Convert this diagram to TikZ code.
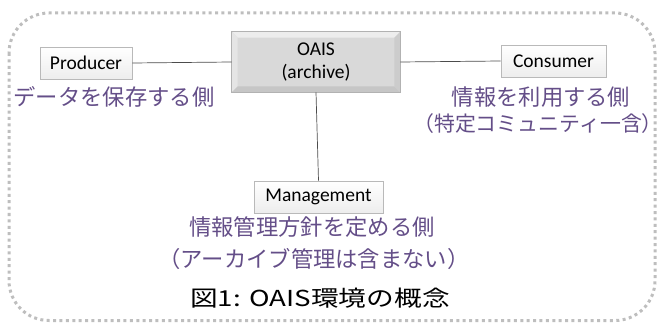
\documentclass[tikz,border=0pt]{standalone}
\usepackage{fontspec}
\setmainfont{Carlito}
\newfontfamily\jp{Noto Sans CJK JP}
\usetikzlibrary{calc}
\definecolor{jpurple}{RGB}{100,78,136}
\definecolor{frameg}{RGB}{190,190,190}
\newcommand{\lpar}{\makebox[0.55em][r]{（}}
\newcommand{\rpar}{\makebox[0.55em][l]{）}}
\tikzset{
  smallbox/.style={draw=gray!55, line width=0.6pt, top color=white, bottom color=gray!14,
    inner sep=0pt, font=\fontsize{19.5}{21}\selectfont},
  oaisbox/.style={draw=gray!60, line width=0.6pt, fill=gray!30, inner sep=0pt},
  link/.style={draw=gray!60!black, line width=0.7pt},
  jplabel/.style={text=jpurple, font=\jp\fontsize{22.3}{25}\selectfont, inner sep=0pt},
  caption/.style={text=black, font=\jp\fontsize{22}{25}\selectfont, inner sep=0pt, xscale=1.26},
  frame/.style={draw=frameg, line width=3pt, dash pattern=on 3pt off 3.4pt, rounded corners=40pt}
}
\begin{document}
\begin{tikzpicture}[x=1pt,y=-1pt]
\useasboundingbox (0,0) rectangle (658,323);
\draw[frame] (9,13) rectangle (655,320.5);

\node[smallbox, minimum width=92pt, minimum height=32pt] (prod) at (86,63) {Producer};
\node[smallbox, minimum width=105pt, minimum height=32pt] (cons) at (553.5,61) {Consumer};
\node[smallbox, minimum width=129pt, minimum height=32pt] (mgmt) at (318.5,197) {Management};
\node[oaisbox, minimum width=168pt, minimum height=60pt] (oais) at (316,62) {};
\fill[gray!14] (oais.north west) -- (oais.north east) -- ($(oais.north east)+(-6,6)$) -- ($(oais.north west)+(6,6)$) -- cycle;
\fill[gray!20] (oais.north west) -- ($(oais.north west)+(6,6)$) -- ($(oais.south west)+(6,-6)$) -- (oais.south west) -- cycle;
\fill[gray!45] (oais.south west) -- ($(oais.south west)+(6,-6)$) -- ($(oais.south east)+(-6,-6)$) -- (oais.south east) -- cycle;
\fill[gray!40] (oais.north east) -- (oais.south east) -- ($(oais.south east)+(-6,-6)$) -- ($(oais.north east)+(-6,6)$) -- cycle;
\draw[gray!60, line width=0.6pt] (oais.north west) rectangle (oais.south east);
\node[font=\fontsize{19.5}{23}\selectfont, align=center, inner sep=0pt] (oaislabel) at (oais) {OAIS\\(archive)};

\draw[link] (prod.east) -- (oais.west);
\draw[link] (oais.east) -- (cons.west);
\draw[link] (oais.south) -- (mgmt.north);

\node[jplabel] (prodtxt) at (114,97) {データを保存する側};
\node[jplabel] (constxt1) at (541,97) {情報を利用する側};
\node[jplabel, font=\jp\fontsize{20.9}{24}\selectfont] (constxt2) at (538,124) {\lpar 特定コミュニティ一含\rpar};
\node[jplabel] (mgmttxt1) at (312,227) {情報管理方針を定める側};
\node[jplabel] (mgmttxt2) at (314,259) {\lpar アーカイブ管理は含まない\rpar};
\node[caption] (cap) at (320,298) {図1: OAIS環境の概念};
\end{tikzpicture}
\end{document}
